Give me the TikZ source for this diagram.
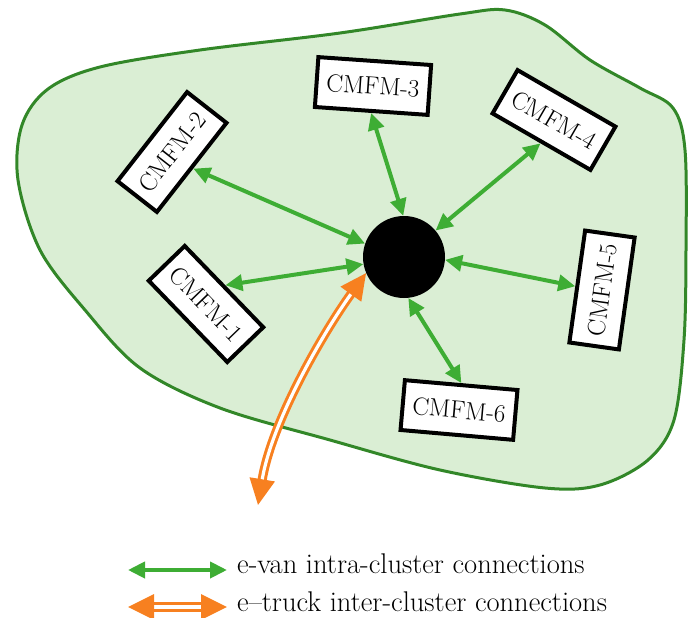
\documentclass[tikz,border=0pt]{standalone}
\usepackage{fontspec}
\usepackage{tikz}
\usetikzlibrary{arrows.meta, calc}
\definecolor{zonefill}{RGB}{218,238,212}
\definecolor{zoneline}{RGB}{50,135,40}
\definecolor{vangreen}{RGB}{62,173,52}
\definecolor{truckorange}{RGB}{247,128,32}
\tikzset{>={Triangle[length=17pt,width=16pt]}}
\tikzset{cmfm/.style={draw=black, fill=white, line width=4pt,
    minimum width=113pt, minimum height=50pt, inner sep=0pt,
    font=\fontsize{25}{28}\selectfont}}
\tikzset{van/.style={<->, vangreen, line width=4pt}}
\tikzset{truck/.style={{Triangle[length=26pt,width=25pt]}-{Triangle[length=26pt,width=25pt]},
    truckorange, line width=3pt, double=white, double distance=3.2pt}}
\tikzset{legtext/.style={font=\fontsize{28.5}{32}\selectfont, inner sep=0pt}}
\begin{document}
\begin{tikzpicture}[x=1pt, y=-1pt]
  \useasboundingbox (0,0) rectangle (689,618);
  % the cluster area
  \draw[zoneline, fill=zonefill, line width=3pt] plot[smooth cycle, tension=0.55]
    coordinates {(200,50) (340,33) (460,14) (505,10) (545,25) (590,60) (640,88)
      (673,108) (685,150) (686,250) (684,340) (674,420) (648,460) (600,485)
      (545,488) (440,470) (330,440) (220,408) (140,368) (85,310) (40,250)
      (18,180) (22,125) (48,89) (100,67)};
  % hub and the six micro-facilities
  \node[circle, fill=black, minimum size=82pt, inner sep=0pt] (hub) at (404,257) {};
  \node[cmfm, rotate=-46] (cmfm1) at (206,304) {CMFM-1};
  \node[cmfm, rotate=52] (cmfm2) at (172,152) {CMFM-2};
  \node[cmfm, rotate=-4] (cmfm3) at (373,86) {CMFM-3};
  \node[cmfm, rotate=-30] (cmfm4) at (554,120) {CMFM-4};
  \node[cmfm, rotate=82] (cmfm5) at (602,290) {CMFM-5};
  \node[cmfm, rotate=-5] (cmfm6) at (459,410) {CMFM-6};
  % e-van links
  \draw[van] (hub.190) -- (cmfm1.north);
  \draw[van] (hub.161) -- (cmfm2.south);
  \draw[van] (hub.91) -- (cmfm3.south);
  \draw[van] (hub.40) -- (cmfm4.south);
  \draw[van] (hub.-4) -- (cmfm5.north);
  \draw[van] (hub.-84) -- (cmfm6.north);
  % e-truck link out of the cluster
  \coordinate (truckend) at (258,505);
  \draw[truck] (truckend) .. controls (272,420) and (325,330) .. (hub.203);
  % legend
  \coordinate (vanleg) at (128,570);
  \node[legtext, anchor=base west] (vanlab) at (237,573) {e-van intra-cluster connections};
  \draw[van, shorten >=10pt] (vanleg) -- (vanleg -| vanlab.west);
  \coordinate (truckleg) at (128,607);
  \node[legtext, anchor=base west] (trucklab) at (237,611) {e--truck inter-cluster connections};
  \draw[truck, shorten >=10pt] (truckleg) -- (truckleg -| trucklab.west);
\end{tikzpicture}
\end{document}
